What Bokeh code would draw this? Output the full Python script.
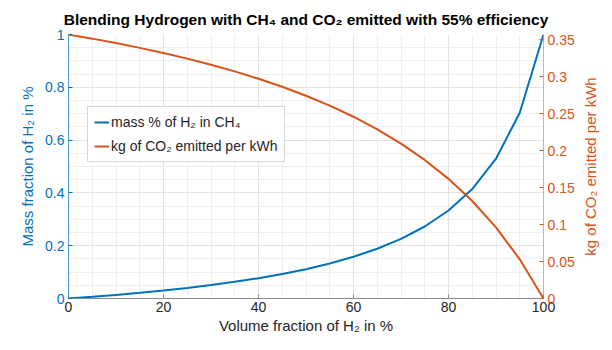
from bokeh.plotting import figure
from bokeh.layouts import row
from bokeh.models import (Range1d, LinearAxis, FixedTicker, Legend, LegendItem,
                          Title)
from bokeh.embed import file_html
from bokeh.resources import INLINE

# Volume fraction of H2 in the blend (%)
vol_pct = [0, 5, 10, 15, 20, 25, 30, 35, 40, 45, 50,
           55, 60, 65, 70, 75, 80, 85, 90, 95, 100]

# Mass fraction of H2 in the H2/CH4 mixture
mass_frac = [0.0, 0.0065, 0.0137, 0.0216, 0.0303, 0.0400, 0.0508, 0.0631,
             0.0769, 0.0928, 0.1111, 0.1325, 0.1579, 0.1884, 0.2258, 0.2727,
             0.3333, 0.4146, 0.5294, 0.7037, 1.0]

# kg of CO2 emitted per kWh of electricity at 55 % efficiency
co2_kwh = [0.357, 0.3514, 0.3454, 0.3389, 0.3320, 0.3244, 0.3161, 0.3071,
           0.2972, 0.2863, 0.2742, 0.2608, 0.2458, 0.2288, 0.2095, 0.1874,
           0.1618, 0.1318, 0.0961, 0.0530, 0.0]

x_ticks = [0, 20, 40, 60, 80, 100]
left_ticks = [0, 0.2, 0.4, 0.6, 0.8, 1.0]
right_ticks = [0, 0.05, 0.1, 0.15, 0.2, 0.25, 0.3, 0.35]

BLUE = "#0072BD"
ORANGE = "#D95319"
DARK = "#262626"
FONT = "Liberation Sans"

H = 350
B_TOP, B_BOTTOM = 34, 52

p = figure(width=578, height=H, output_backend="svg", toolbar_location=None,
           x_range=Range1d(0, 100), y_range=Range1d(0, 1),
           min_border_left=68, min_border_right=35,
           min_border_top=B_TOP, min_border_bottom=B_BOTTOM)
p.extra_y_ranges = {"co2": Range1d(0, 0.357)}

p.title.text = "Blending Hydrogen with CH\u2084 and CO\u2082 emitted with 55% efficiency"
p.title.align = "center"
p.title.text_font = FONT
p.title.text_font_size = "15.5px"
p.title.text_font_style = "bold"
p.title.text_color = "#000000"
p.title.standoff = 13

p.outline_line_color = None
p.background_fill_color = "white"

# grids
p.xgrid.ticker = FixedTicker(ticks=x_ticks, minor_ticks=list(range(0, 101, 5)))
p.ygrid.ticker = FixedTicker(ticks=left_ticks,
                             minor_ticks=[i * 0.05 for i in range(21)])
for g in (p.xgrid, p.ygrid):
    g.grid_line_color = "#e2e2e2"
    g.minor_grid_line_color = "#eeeeee"

# bottom axis
xa = p.xaxis[0]
xa.ticker = FixedTicker(ticks=x_ticks)
xa.axis_label = "Volume fraction of H\u2082 in %"
xa.axis_line_color = "#8a8a8a"
xa.major_tick_line_color = "#8a8a8a"
xa.major_tick_in = 4
xa.major_tick_out = 0
xa.minor_tick_line_color = None
xa.major_label_text_color = DARK
xa.axis_label_text_color = DARK
xa.major_label_standoff = 3
xa.axis_label_standoff = 2

# left axis
ya = p.yaxis[0]
ya.ticker = FixedTicker(ticks=left_ticks)
ya.major_label_overrides = {0: "0", 0.2: "0.2", 0.4: "0.4", 0.6: "0.6",
                            0.8: "0.8", 1.0: "1"}
ya.axis_label = "Mass fraction of H\u2082 in %"
ya.axis_line_color = BLUE
ya.axis_line_alpha = 0.7
ya.major_tick_line_color = BLUE
ya.major_tick_in = 4
ya.major_tick_out = 0
ya.minor_tick_line_color = None
ya.major_label_text_color = BLUE
ya.axis_label_text_color = BLUE
ya.major_label_standoff = 4
ya.axis_label_standoff = 6

# right axis (ticks only; its title sits in the strip beside the plot)
ra = LinearAxis(y_range_name="co2", ticker=FixedTicker(ticks=right_ticks))
ra.major_label_overrides = {0: "0", 0.05: "0.05", 0.1: "0.1", 0.15: "0.15",
                            0.2: "0.2", 0.25: "0.25", 0.3: "0.3", 0.35: "0.35"}
ra.axis_line_color = ORANGE
ra.axis_line_alpha = 0.5
ra.major_tick_line_color = ORANGE
ra.major_tick_in = 4
ra.major_tick_out = 0
ra.minor_tick_line_color = None
ra.major_label_text_color = ORANGE
ra.major_label_standoff = 4
p.add_layout(ra, "right")

for ax in (xa, ya, ra):
    ax.major_label_text_font = FONT
    ax.major_label_text_font_size = "14px"
    ax.axis_label_text_font = FONT
    ax.axis_label_text_font_size = "15px"
    ax.axis_label_text_font_style = "normal"

r_mass = p.line(vol_pct, mass_frac, line_color=BLUE, line_width=2)
r_co2 = p.line(vol_pct, co2_kwh, line_color=ORANGE, line_width=2,
               y_range_name="co2")

legend = Legend(items=[
    LegendItem(label="mass % of H\u2082 in CH\u2084", renderers=[r_mass]),
    LegendItem(label="kg of CO\u2082 emitted per kWh", renderers=[r_co2]),
], location=(19, 136))
legend.label_text_font = FONT
legend.label_text_font_size = "14px"
legend.label_text_color = DARK
legend.glyph_width = 15
legend.glyph_height = 18
legend.label_standoff = 2
legend.label_height = 18
legend.spacing = 6
legend.padding = 6
legend.margin = 0
legend.border_line_color = "#b0b0b0"
legend.border_line_width = 1
legend.background_fill_alpha = 1.0
p.add_layout(legend, "center")

# narrow strip carrying the right-hand axis title, reading bottom-to-top
strip = figure(width=34, height=H, output_backend="svg", toolbar_location=None,
               x_axis_type=None, y_axis_type=None,
               min_border_left=0, min_border_right=0,
               min_border_top=B_TOP, min_border_bottom=B_BOTTOM)
strip.outline_line_color = None
strip.xgrid.visible = False
strip.ygrid.visible = False
strip.add_layout(Title(text="kg of CO\u2082 emitted per kWh", align="center",
                       text_font=FONT, text_font_size="15px",
                       text_font_style="normal", text_color=ORANGE,
                       standoff=3), "left")

layout = row(p, strip)
open("out.html", "w").write(file_html(layout, INLINE))
